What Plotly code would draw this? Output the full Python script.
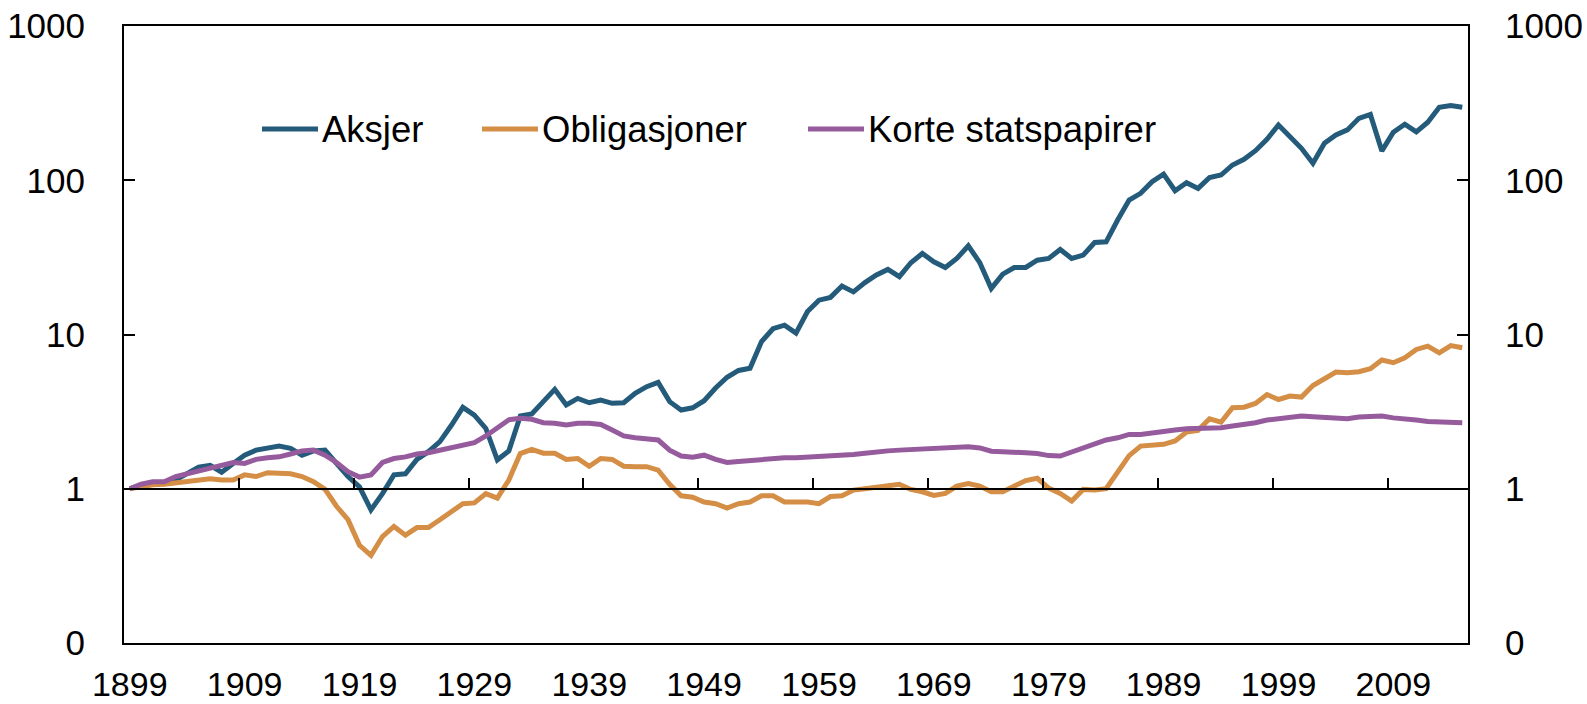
import plotly.graph_objects as go

years = list(range(1899, 2016))

aksjer = [
    1.00, 1.06, 1.08, 1.08, 1.14, 1.25, 1.38, 1.42, 1.28, 1.46,   # 1899-1908
    1.65, 1.78, 1.83, 1.89, 1.83, 1.65, 1.76, 1.78, 1.46, 1.20,   # 1909-1918
    1.03, 0.73, 0.93, 1.23, 1.25, 1.55, 1.74, 2.02, 2.58, 3.37,   # 1919-1928
    3.00, 2.46, 1.54, 1.76, 2.96, 3.05, 3.67, 4.41, 3.49, 3.85,   # 1929-1938
    3.61, 3.76, 3.58, 3.61, 4.16, 4.59, 4.89, 3.67, 3.24, 3.35,   # 1939-1948
    3.72, 4.50, 5.28, 5.85, 6.04, 9.00, 10.9, 11.5, 10.2, 14.1,   # 1949-1958
    16.7, 17.4, 20.6, 18.9, 21.7, 24.3, 26.4, 23.7, 29.2, 33.5,   # 1959-1968
    29.6, 27.2, 31.1, 37.6, 29.2, 19.9, 24.6, 27.2, 27.2, 30.3,   # 1969-1978
    31.1, 35.6, 31.1, 32.7, 39.5, 39.9, 55.2, 74.4, 82.2, 97.8,   # 1979-1988
    109.6, 85.5, 96.4, 88.5, 104.3, 108.1, 125.6, 136.6, 155.4, 184.0,  # 1989-1998
    228.0, 193.5, 161.0, 128.8, 173.8, 196.8, 212.0, 252.0, 267.0, 155.0,  # 1999-2008
    205.0, 231.0, 206.0, 238.0, 297.0, 305.0, 297.0,                 # 2009-2015
]

obligasjoner = [
    1.00, 1.03, 1.06, 1.07, 1.09, 1.11, 1.14, 1.16, 1.14, 1.14,   # 1899-1908
    1.23, 1.20, 1.27, 1.26, 1.25, 1.20, 1.11, 0.99, 0.77, 0.63,   # 1909-1918
    0.43, 0.37, 0.49, 0.57, 0.50, 0.56, 0.56, 0.63, 0.71, 0.80,   # 1919-1928
    0.81, 0.93, 0.87, 1.14, 1.69, 1.80, 1.70, 1.70, 1.55, 1.57,   # 1929-1938
    1.40, 1.57, 1.55, 1.40, 1.39, 1.39, 1.32, 1.07, 0.90, 0.88,   # 1939-1948
    0.82, 0.80, 0.75, 0.80, 0.82, 0.90, 0.90, 0.82, 0.82, 0.82,   # 1949-1958
    0.80, 0.89, 0.90, 0.98, 1.00, 1.02, 1.04, 1.07, 0.99, 0.956,  # 1959-1968
    0.905, 0.933, 1.04, 1.08, 1.04, 0.956, 0.956, 1.04, 1.13, 1.17,  # 1969-1978
    1.01, 0.933, 0.832, 0.99, 0.98, 1.00, 1.28, 1.64, 1.89, 1.91,  # 1979-1988
    1.94, 2.04, 2.33, 2.39, 2.84, 2.70, 3.35, 3.38, 3.57, 4.08,   # 1989-1998
    3.79, 3.99, 3.93, 4.67, 5.17, 5.71, 5.65, 5.74, 6.00, 6.83,   # 1999-2008
    6.56, 7.07, 8.00, 8.40, 7.61, 8.47, 8.20,                     # 2009-2015
]

korte = [
    1.00, 1.07, 1.11, 1.11, 1.20, 1.25, 1.31, 1.34, 1.40, 1.48,   # 1899-1908
    1.46, 1.55, 1.59, 1.61, 1.68, 1.76, 1.78, 1.65, 1.48, 1.29,   # 1909-1918
    1.19, 1.23, 1.48, 1.57, 1.61, 1.68, 1.71, 1.78, 1.86, 1.92,   # 1919-1928
    1.99, 2.20, 2.46, 2.80, 2.86, 2.82, 2.68, 2.66, 2.59, 2.66,   # 1929-1938
    2.66, 2.61, 2.40, 2.20, 2.14, 2.12, 2.07, 1.78, 1.63, 1.60,   # 1939-1948
    1.65, 1.55, 1.48, 1.50, 1.52, 1.55, 1.59, 1.59, 1.59, 1.60,   # 1949-1958
    1.61, 1.63, 1.65, 1.67, 1.70, 1.74, 1.76, 1.78, 1.80, 1.82,   # 1959-1968
    1.83, 1.84, 1.86, 1.87, 1.84, 1.75, 1.74, 1.74, 1.71, 1.69,   # 1969-1978
    1.64, 1.63, 1.73, 1.84, 1.94, 2.07, 2.14, 2.25, 2.25, 2.31,   # 1979-1988
    2.36, 2.40, 2.45, 2.45, 2.46, 2.49, 2.55, 2.59, 2.68, 2.79,   # 1989-1998
    2.84, 2.88, 2.96, 2.93, 2.90, 2.86, 2.84, 2.92, 2.93, 2.96,   # 1999-2008
    2.88, 2.86, 2.79, 2.73, 2.70, 2.68, 2.68,                     # 2009-2015
]

series_names = ["Aksjer", "Obligasjoner", "Korte statspapirer"]
series_colors = ["#245B7B", "#D48E45", "#965B9C"]

x_label_years = list(range(1899, 2010, 10))
x_tick_bounds = [y - 0.5 for y in range(1899, 2016, 10)]
y_tickvals = [0.1, 1, 10, 100, 1000]
y_ticktext = ["0", "1", "10", "100", "1000"]

FONT = "Arial, 'Liberation Sans', sans-serif"
XFONT = "'Liberation Sans Narrow', 'Arial Narrow', Arial, 'Liberation Sans', sans-serif"

W, H = 1587, 704
# plot area in pixels
L, R, T, B = 124, 1468, 26, 643

fig = go.Figure()
for name, vals, col in zip(series_names, [aksjer, obligasjoner, korte], series_colors):
    fig.add_trace(go.Scatter(x=years, y=vals, name=name, mode="lines", showlegend=False,
                             line=dict(color=col, width=5), hoverinfo="skip"))

# helper (invisible) traces so the auxiliary axes are rendered
fig.add_trace(go.Scatter(x=years, y=korte, xaxis="x2", yaxis="y", mode="lines",
                         line=dict(width=0), showlegend=False, hoverinfo="skip"))
fig.add_trace(go.Scatter(x=years, y=korte, xaxis="x", yaxis="y2", mode="lines",
                         line=dict(width=0), showlegend=False, hoverinfo="skip"))


def px(xs):
    return (xs - L) / (R - L)


def py(ys):
    return (B - ys) / (B - T)


# legend inside the plot: sample line + label
legend_sample_x = [262, 482, 808]
legend_y = 129
for name, col, x0 in zip(series_names, series_colors, legend_sample_x):
    fig.add_shape(type="line", xref="paper", yref="paper",
                  x0=px(x0), x1=px(x0 + 56), y0=py(legend_y), y1=py(legend_y),
                  line=dict(color=col, width=5))
    fig.add_annotation(xref="paper", yref="paper", x=px(x0 + 58), y=py(legend_y),
                       xanchor="left", yanchor="middle", text=name, showarrow=False,
                       font=dict(size=36.5, family=FONT, color="black"))

xr = [1898.5, 2015.5]
yr = [-1, 3]

fig.update_layout(
    width=W, height=H,
    margin=dict(l=L, r=W - R, t=T, b=H - B, autoexpand=False),
    paper_bgcolor="white", plot_bgcolor="white",
    font=dict(family=FONT, color="black"),
    showlegend=False,
    xaxis=dict(range=xr, tickvals=x_label_years, ticks="", showgrid=False, zeroline=False,
               showline=True, mirror=True, linecolor="black", linewidth=2, automargin=False,
               ticklabeloverflow="allow",
               tickfont=dict(size=34, family=XFONT), ticklabelstandoff=10),
    xaxis2=dict(range=xr, overlaying="x", anchor="free", position=0.25, side="bottom",
                tickvals=x_tick_bounds, ticks="inside", ticklen=10, tickwidth=2,
                tickcolor="black", showticklabels=False, showgrid=False, zeroline=False,
                showline=True, linecolor="black", linewidth=2, automargin=False),
    yaxis=dict(type="log", range=yr, tickvals=y_tickvals, ticktext=y_ticktext,
               ticks="inside", ticklen=11, tickwidth=2, tickcolor="black", automargin=False,
               showgrid=False, zeroline=False, showline=True, linecolor="black", linewidth=2,
               ticklabeloverflow="allow",
               tickfont=dict(size=35, family=FONT), ticklabelstandoff=30),
    yaxis2=dict(type="log", range=yr, overlaying="y", side="right", tickvals=y_tickvals,
                ticktext=y_ticktext, ticks="inside", ticklen=11, tickwidth=2, tickcolor="black",
                showgrid=False, zeroline=False, showline=True, linecolor="black", linewidth=2,
                ticklabeloverflow="allow",
                automargin=False, tickfont=dict(size=35, family=FONT), ticklabelstandoff=28),
)

# remove the browser's default 8px page margin so the figure fills the window exactly
fig.write_html("out.html", config={"displayModeBar": False},
               post_script="document.body.style.margin='0';document.body.style.overflow='hidden';")
